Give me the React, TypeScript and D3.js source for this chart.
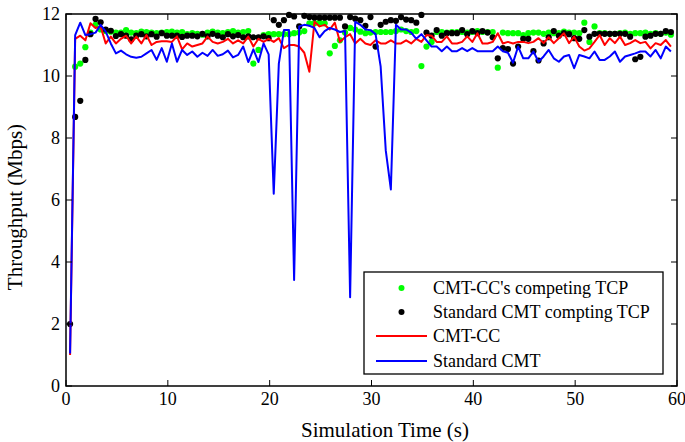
import React from "react";
import * as d3 from "d3";

// sampling: first sample at 0.4 s, then every 0.5 s (119 samples)
const T0 = 0.4;
const DT = 0.5;

const blueCMT = [
  1.05, 11.32, 11.72, 11.32, 11.35, 11.4, 11.65, 11.43, 11.05, 10.73, 10.82, 10.7, 10.62, 10.59, 10.62, 10.73, 10.84, 10.52, 10.9, 10.46, 11.05, 10.46, 10.84, 10.68, 10.79, 10.62, 10.75, 10.65, 10.84,
  10.65, 10.7, 10.82, 10.6, 10.68, 10.95, 10.45, 10.86, 10.45, 11.05, 10.7, 6.2, 10.4, 11.48, 11.48, 3.42, 11.6, 11.65, 11.62, 11.55, 11.25, 11.45, 11.55, 11.5, 11.42, 11.45, 2.86, 11.75, 11.65, 11.5,
  11.48, 11.35, 10.3, 7.6, 6.34, 11.65, 11.5, 11.5, 11.4, 11.2, 11.35, 11.15, 10.95, 10.95, 10.8, 10.95, 10.8, 10.8, 10.9, 10.8, 10.9, 10.8, 10.8, 10.8, 10.8, 10.95, 10.8, 10.75, 10.43, 10.95,
  10.57, 10.57, 10.79, 10.46, 10.63, 10.84, 10.57, 10.46, 10.63, 10.68, 10.25, 10.68, 10.63, 10.57, 10.79, 10.52, 10.52, 10.63, 10.79, 10.46, 10.63, 10.68, 10.73, 10.79, 10.79, 10.63, 10.84, 10.57, 10.95, 10.79,
];

const redCC = [
  1.0, 11.2, 11.3, 11.15, 11.7, 11.55, 11.6, 11.05, 11.27, 11.05, 11.2, 11.3, 11.05, 11.27, 11.05, 11.32, 11.0, 11.1, 11.12, 11.12, 11.1, 11.28, 10.86, 11.05, 10.95, 11.0, 11.05, 11.27, 11.1,
  11.05, 11.1, 11.2, 11.05, 11.15, 11.05, 11.27, 10.95, 11.2, 11.1, 11.2, 11.1, 11.22, 10.9, 11.0, 11.0, 10.95, 10.75, 10.14, 11.75, 11.6, 11.65, 11.5, 11.72, 11.1, 11.25, 11.35, 11.05, 11.2, 11.05,
  11.0, 11.15, 11.05, 11.05, 11.15, 11.05, 11.05, 11.15, 11.05, 11.2, 11.1, 11.32, 11.3, 11.1, 11.1, 11.28, 11.05, 11.05, 11.1, 11.28, 11.1, 11.38, 11.05, 11.05, 11.1, 11.38, 11.05, 11.1, 11.05, 11.1,
  11.1, 11.06, 11.1, 11.22, 11.06, 11.25, 11.06, 11.22, 11.38, 11.06, 11.27, 10.95, 10.82, 10.89, 11.1, 11.32, 11.0, 11.22, 11.06, 11.27, 11.0, 11.06, 11.16, 11.06, 11.1, 10.89, 11.06, 11.0, 11.16, 10.95,
];

const greenTCP = [
  null, 10.3, 10.4, 10.93, 11.4, 11.65, 11.5, 11.45, 11.43, 11.4, 11.4, 11.48, 11.4, 11.38, 11.43, 11.42, 11.4, 11.38, 11.4, 11.42, 11.43, 11.4, 11.42, 11.35, 11.38, 11.36, 11.33, 11.4, 11.43,
  11.4, 11.38, 11.42, 11.45, 11.4, 11.42, 11.45, 10.4, 10.84, 11.32, 11.35, 11.35, 11.35, 11.35, 11.35, 11.38, 11.4, 11.45, 11.7, 11.7, 11.72, 11.7, 10.73, 10.97, 11.15, 11.4, 11.55, 11.5, 11.43, 11.38,
  11.4, 11.42, 11.42, 11.42, 11.42, 11.45, 11.5, 11.45, 11.42, 11.45, 10.32, 10.95, 11.1, 11.42, 11.42, 11.4, 11.42, 11.42, 11.42, 11.4, 11.42, 11.45, 11.42, 11.42, 11.42, 10.27, 11.4, 11.38, 11.38, 11.38,
  11.32, 11.38, 11.4, 11.4, 11.36, 11.4, 11.38, 11.38, 11.43, 11.4, 11.4, 11.38, 11.72, 11.1, 11.6, 11.38, 11.38, 11.36, 11.36, 11.38, 11.4, 11.36, 11.38, 11.38, 11.4, 11.36, 11.38, 11.36, 11.4, 11.33,
];

const blackTCP = [
  2.0, 8.68, 9.2, 10.52, 11.35, 11.84, 11.73, 11.5, 11.46, 11.29, 11.35, 11.3, 11.18, 11.3, 11.35, 11.28, 11.35, 11.27, 11.38, 11.3, 11.3, 11.3, 11.26, 11.3, 11.3, 11.28, 11.36, 11.28, 11.36,
  11.3, 11.25, 11.35, 11.28, 11.32, 11.25, 11.28, 11.25, 11.25, 11.28, 11.22, 11.8, 11.65, 11.8, 11.97, 11.92, 11.6, 11.94, 11.9, 11.88, 11.88, 11.88, 11.88, 11.88, 11.88, 11.6, 11.9, 11.85, 11.8, 11.62,
  11.9, 10.95, 11.65, 11.75, 11.8, 11.78, 11.9, 11.82, 11.8, 11.72, 11.97, 11.4, 11.3, 11.48, 11.3, 11.38, 11.38, 11.38, 11.48, 11.35, 11.45, 11.38, 11.45, 11.4, 11.25, 10.57, 10.9, 10.87, 10.4, 10.95,
  11.2, 11.2, 10.8, 10.5, 11.05, 11.25, 11.45, 11.3, 11.38, 11.35, 11.22, 11.2, 11.48, 11.27, 11.36, 11.36, 11.36, 11.36, 11.36, 11.36, 11.36, 11.27, 10.54, 10.62, 11.27, 11.3, 11.36, 11.36, 11.45, 11.42,
];

const xTicks = [0, 10, 20, 30, 40, 50, 60];
const yTicks = [0, 2, 4, 6, 8, 10, 12];

const legendItems = [
  { label: "CMT-CC's competing TCP", color: "#00ff00", kind: "dot" },
  { label: "Standard CMT compting TCP", color: "#000000", kind: "dot" },
  { label: "CMT-CC", color: "#ff0000", kind: "line" },
  { label: "Standard CMT", color: "#0000ff", kind: "line" },
];

const W = 685;
const H = 442;
const margin = { top: 14, right: 8, bottom: 56, left: 66 };
const FONT = "Liberation Serif, DejaVu Serif, serif";

export default function App() {
  const x = d3.scaleLinear().domain([0, 60]).range([margin.left, W - margin.right]);
  const y = d3.scaleLinear().domain([0, 12]).range([H - margin.bottom, margin.top]);
  const tAt = (i: number) => T0 + DT * i;

  const line = d3
    .line<number>()
    .x((_, i) => x(tAt(i)))
    .y((d) => y(d));

  const dots = (vals: (number | null)[], color: string) =>
    vals.map((v, i) =>
      v == null ? null : <circle key={i} cx={x(tAt(i))} cy={y(v)} r={3.1} fill={color} />
    );

  const x0 = margin.left;
  const x1 = W - margin.right;
  const y0 = H - margin.bottom;
  const y1 = margin.top;
  const tick = 6;

  const lg = { x: 364, y: 272, w: 299, h: 102 };
  const rowY = [288, 312, 336, 361];
  const txt = { fontFamily: FONT };

  return (
    <div style={{ position: "fixed", left: 0, top: 0 }}>
      <svg width={W} height={H} style={{ display: "block", background: "#fff" }}>
        <g>{dots(greenTCP, "#00ff00")}</g>
        <g>{dots(blackTCP, "#000000")}</g>
        <path d={line(redCC) || ""} fill="none" stroke="#ff0000" strokeWidth={2} strokeLinejoin="round" />
        <path d={line(blueCMT) || ""} fill="none" stroke="#0000ff" strokeWidth={2} strokeLinejoin="round" />

        {/* frame */}
        <rect x={x0} y={y1} width={x1 - x0} height={y0 - y1} fill="none" stroke="#000" strokeWidth={1.5} />
        {xTicks.map((t) => (
          <g key={"xt" + t}>
            <line x1={x(t)} x2={x(t)} y1={y0} y2={y0 - tick} stroke="#000" strokeWidth={1} />
            <line x1={x(t)} x2={x(t)} y1={y1} y2={y1 + tick} stroke="#000" strokeWidth={1} />
            <text x={x(t)} y={y0 + 19} textAnchor="middle" style={txt} fontSize={18}>
              {t}
            </text>
          </g>
        ))}
        {yTicks.map((t) => (
          <g key={"yt" + t}>
            <line x1={x0} x2={x0 + tick} y1={y(t)} y2={y(t)} stroke="#000" strokeWidth={1} />
            <line x1={x1} x2={x1 - tick} y1={y(t)} y2={y(t)} stroke="#000" strokeWidth={1} />
            <text x={x0 - 6} y={y(t) + 6} textAnchor="end" style={txt} fontSize={18}>
              {t}
            </text>
          </g>
        ))}

        <text x={385} y={437} textAnchor="middle" style={txt} fontSize={21}>
          Simulation Time (s)
        </text>
        <text
          transform={`translate(22,207) rotate(-90)`}
          textAnchor="middle"
          style={txt}
          fontSize={21}
        >
          Throughput (Mbps)
        </text>

        {/* legend */}
        <rect x={lg.x} y={lg.y} width={lg.w} height={lg.h} fill="#fff" stroke="#000" strokeWidth={1.3} />
        {legendItems.map((it, i) => (
          <g key={it.label}>
            {it.kind === "dot" ? (
              <circle cx={401.5} cy={rowY[i]} r={3} fill={it.color} />
            ) : (
              <line x1={376} x2={427} y1={rowY[i]} y2={rowY[i]} stroke={it.color} strokeWidth={2} />
            )}
            <text x={433} y={rowY[i] + 6} style={txt} fontSize={18}>
              {it.label}
            </text>
          </g>
        ))}
      </svg>
    </div>
  );
}
